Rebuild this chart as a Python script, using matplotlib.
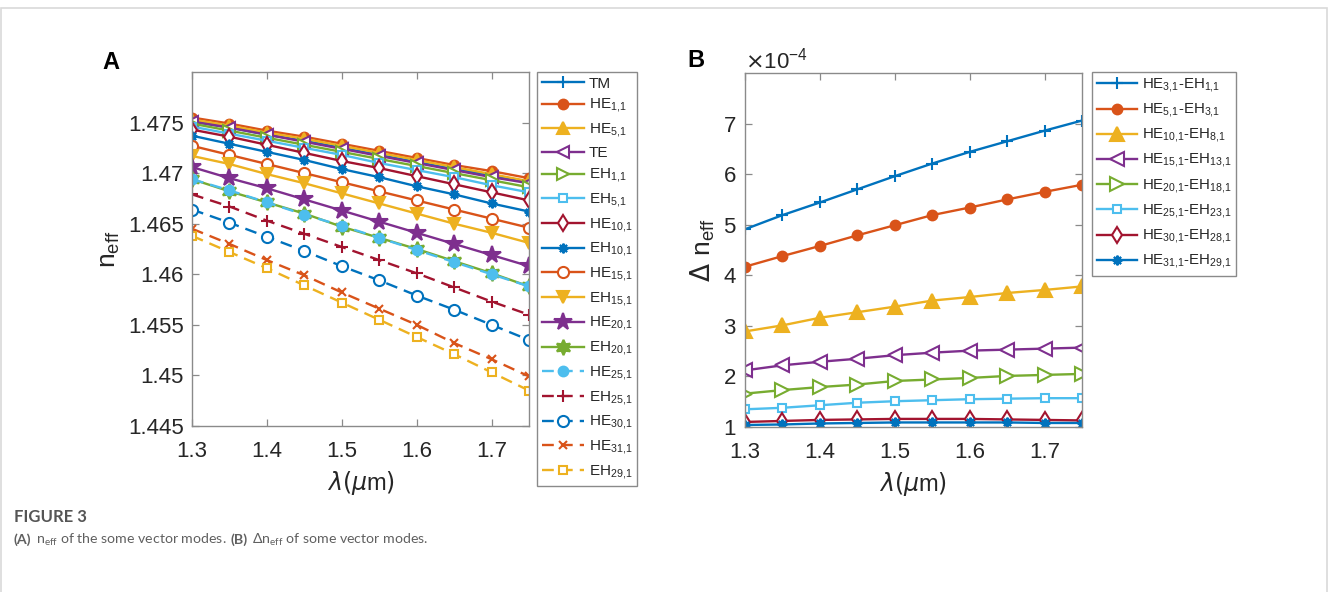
import matplotlib
matplotlib.use('Agg')
import matplotlib.pyplot as plt
from matplotlib.patches import Rectangle
from matplotlib.ticker import FuncFormatter

plt.rcParams['font.family'] = ['Liberation Sans', 'DejaVu Sans']
plt.rcParams['mathtext.fontset'] = 'dejavusans'

# wavelength (um)
wl = [1.30, 1.35, 1.40, 1.45, 1.50, 1.55, 1.60, 1.65, 1.70, 1.75]

# panel A: effective index of the vector modes
n_TM    = [1.4751, 1.4745, 1.4738, 1.4732, 1.4725, 1.4718, 1.4711, 1.4704, 1.4698, 1.4691]
n_HE1   = [1.4755, 1.4749, 1.4742, 1.4736, 1.4729, 1.4722, 1.4715, 1.4708, 1.4702, 1.4695]
n_HE5   = [1.4753, 1.4747, 1.4740, 1.4734, 1.4727, 1.4720, 1.4713, 1.4706, 1.4699, 1.4692]
n_TE    = [1.4751, 1.4745, 1.4738, 1.4731, 1.4724, 1.4717, 1.4710, 1.4703, 1.4696, 1.4690]
n_EH1   = [1.4749, 1.4742, 1.4735, 1.4728, 1.4721, 1.4714, 1.4707, 1.4700, 1.4693, 1.4686]
n_EH5   = [1.4746, 1.4739, 1.4732, 1.4725, 1.4718, 1.4710, 1.4703, 1.4696, 1.4688, 1.4681]
n_HE10  = [1.4743, 1.4736, 1.4728, 1.4720, 1.4712, 1.4705, 1.4697, 1.4689, 1.4681, 1.4673]
n_EH10  = [1.4737, 1.4729, 1.4721, 1.4713, 1.4704, 1.4696, 1.4687, 1.4679, 1.4670, 1.4662]
n_HE15  = [1.4727, 1.4718, 1.4709, 1.4700, 1.4691, 1.4682, 1.4673, 1.4664, 1.4655, 1.4646]
n_EH15  = [1.4717, 1.4709, 1.4699, 1.4690, 1.4680, 1.4670, 1.4660, 1.4650, 1.4641, 1.4631]
n_HE20  = [1.4706, 1.4695, 1.4685, 1.4674, 1.4663, 1.4652, 1.4641, 1.4630, 1.4619, 1.4608]
n_EH20  = [1.4694, 1.4682, 1.4671, 1.4660, 1.4647, 1.4636, 1.4625, 1.4613, 1.4601, 1.4588]
n_HE25  = [1.4694, 1.4683, 1.4671, 1.4659, 1.4648, 1.4636, 1.4624, 1.4612, 1.4600, 1.4588]
n_EH25  = [1.4679, 1.4667, 1.4653, 1.4640, 1.4627, 1.4614, 1.4601, 1.4587, 1.4573, 1.4560]
n_HE30  = [1.4664, 1.4651, 1.4637, 1.4623, 1.4608, 1.4594, 1.4579, 1.4565, 1.4550, 1.4535]
n_HE31  = [1.4645, 1.4630, 1.4614, 1.4599, 1.4582, 1.4566, 1.4550, 1.4532, 1.4516, 1.4499]
n_EH29  = [1.4638, 1.4622, 1.4606, 1.4589, 1.4572, 1.4555, 1.4538, 1.4521, 1.4503, 1.4485]

labels_a = ['TM', 'HE|1,1', 'HE|5,1', 'TE', 'EH|1,1', 'EH|5,1', 'HE|10,1',
            'EH|10,1', 'HE|15,1', 'EH|15,1', 'HE|20,1', 'EH|20,1',
            'HE|25,1', 'EH|25,1', 'HE|30,1', 'HE|31,1', 'EH|29,1']
series_a = [n_TM, n_HE1, n_HE5, n_TE, n_EH1, n_EH5, n_HE10, n_EH10, n_HE15,
            n_EH15, n_HE20, n_EH20, n_HE25, n_EH25, n_HE30, n_HE31, n_EH29]

# panel B: index difference between neighbouring modes (x1e-4)
d_HE3_EH1   = [4.91, 5.19, 5.44, 5.70, 5.96, 6.21, 6.44, 6.65, 6.86, 7.06]
d_HE5_EH3   = [4.17, 4.38, 4.58, 4.79, 4.99, 5.19, 5.34, 5.50, 5.65, 5.79]
d_HE10_EH8  = [2.89, 3.01, 3.16, 3.27, 3.38, 3.50, 3.57, 3.65, 3.71, 3.78]
d_HE15_EH13 = [2.12, 2.22, 2.29, 2.35, 2.42, 2.47, 2.51, 2.53, 2.55, 2.57]
d_HE20_EH18 = [1.66, 1.73, 1.79, 1.84, 1.91, 1.94, 1.97, 2.01, 2.03, 2.05]
d_HE25_EH23 = [1.35, 1.38, 1.43, 1.48, 1.51, 1.53, 1.55, 1.56, 1.57, 1.57]
d_HE30_EH28 = [1.10, 1.12, 1.14, 1.15, 1.16, 1.16, 1.16, 1.15, 1.14, 1.13]
d_HE31_EH29 = [1.04, 1.05, 1.07, 1.08, 1.09, 1.09, 1.09, 1.09, 1.08, 1.08]

labels_b = ['HE|3,1-EH|1,1', 'HE|5,1-EH|3,1', 'HE|10,1-EH|8,1',
            'HE|15,1-EH|13,1', 'HE|20,1-EH|18,1', 'HE|25,1-EH|23,1',
            'HE|30,1-EH|28,1', 'HE|31,1-EH|29,1']
series_b = [d_HE3_EH1, d_HE5_EH3, d_HE10_EH8, d_HE15_EH13, d_HE20_EH18,
            d_HE25_EH23, d_HE30_EH28, d_HE31_EH29]

# MATLAB default colour order
C = ['#0072BD', '#D95319', '#EDB120', '#7E2F8E', '#77AC30', '#4DBEEE', '#A2142F']
ASTER = (8, 2, 0)
HEXA = (6, 1, 0)

# marker, filled, linestyle, size
style_a = [('+', True, '-', 8), ('o', True, '-', 7), ('^', True, '-', 9),
           ('<', False, '-', 8), ('>', False, '-', 8), ('s', False, '-', 6),
           ('d', False, '-', 8), (ASTER, True, '-', 7), ('o', False, '-', 8),
           ('v', True, '-', 9), ('*', True, '-', 13), (HEXA, True, '-', 11),
           ('o', True, '--', 7), ('+', True, '--', 8), ('o', False, '--', 8),
           ('x', True, '--', 6), ('s', False, '--', 6)]
style_b = [('+', True, '-', 8), ('o', True, '-', 7), ('^', True, '-', 10),
           ('<', False, '-', 10), ('>', False, '-', 10), ('s', False, '-', 6),
           ('d', False, '-', 8), (ASTER, True, '-', 7)]

GREY = '#8a8a8a'
TXT = '#262626'


def sub(lab):
    # 'HE|3,1-EH|1,1' -> HE with subscript 3,1 - EH with subscript 1,1
    out = []
    for part in lab.split('-'):
        if '|' in part:
            name, idx = part.split('|')
            part = name + r'$_{\mathregular{' + idx.replace(',', '{,}') + '}}$'
        out.append(part)
    return '-'.join(out)


fig = plt.figure(figsize=(13.28, 5.92), dpi=100)
fig.patches.append(Rectangle((0.0008, -0.1), 0.9984, 1.086, transform=fig.transFigure,
                             fill=False, edgecolor='#d9d9d9', linewidth=1.2))

ax1 = fig.add_axes([0.1446, 0.2804, 0.2538, 0.598])
ax2 = fig.add_axes([0.5610, 0.2787, 0.2538, 0.598])


def draw(ax, xs, series, labels, styles):
    for i, (ys, lab, st) in enumerate(zip(series, labels, styles)):
        mk, filled, ls, ms = st
        col = C[i % 7]
        kw = dict(color=col, linewidth=1.7, marker=mk, markersize=ms,
                  markeredgewidth=1.5, markeredgecolor=col,
                  markerfacecolor=col if filled else 'white',
                  label=sub(lab))
        if ls == '--':
            kw['dashes'] = (5, 3)
        ax.plot(xs, ys, **kw)


def style_axes(ax):
    for s in ax.spines.values():
        s.set_color(GREY)
        s.set_linewidth(1.0)
    ax.tick_params(direction='in', top=True, right=True, length=5, width=0.9,
                   color=GREY, labelcolor=TXT, labelsize=16, pad=6)
    ax.tick_params(axis='x', pad=11)
    ax.set_xlim(1.3, 1.75)
    ax.set_xticks([1.3, 1.4, 1.5, 1.6, 1.7])
    ax.set_xlabel(r'$\lambda(\mu$m$)$', fontsize=17, color=TXT, labelpad=5)


draw(ax1, wl, series_a, labels_a, style_a)
style_axes(ax1)
ax1.set_ylim(1.445, 1.48)
ax1.set_yticks([1.445, 1.45, 1.455, 1.46, 1.465, 1.47, 1.475])
ax1.yaxis.set_major_formatter(FuncFormatter(lambda v, p: '%g' % round(v, 4)))
ax1.set_ylabel(r'$\mathregular{n_{eff}}$', fontsize=19, color=TXT, labelpad=4)

series_b_abs = [[v * 1e-4 for v in s] for s in series_b]
draw(ax2, wl, series_b_abs, labels_b, style_b)
style_axes(ax2)
ax2.set_ylim(1e-4, 8e-4)
ax2.set_yticks([1e-4, 2e-4, 3e-4, 4e-4, 5e-4, 6e-4, 7e-4])
ax2.ticklabel_format(axis='y', style='sci', scilimits=(0, 0), useMathText=True)
ax2.yaxis.get_offset_text().set_fontsize(16)
ax2.yaxis.get_offset_text().set_color(TXT)
ax2.set_ylabel(r'$\Delta\ \mathregular{n_{eff}}$', fontsize=19, color=TXT, labelpad=4)

leg_kw = dict(loc='upper left', bbox_transform=fig.transFigure, fancybox=False,
              edgecolor=GREY, framealpha=1, borderpad=0.3, handletextpad=0.3,
              borderaxespad=0)
leg1 = ax1.legend(bbox_to_anchor=(0.4044, 0.8784), fontsize=11, handlelength=2.8,
                  labelspacing=0.42, **leg_kw)
leg2 = ax2.legend(bbox_to_anchor=(0.8223, 0.8784), fontsize=10.8, handlelength=2.7,
                  labelspacing=0.46, **leg_kw)
for lg in (leg1, leg2):
    lg.get_frame().set_linewidth(1.0)
    for t in lg.get_texts():
        t.set_color(TXT)

fig.text(0.0768, 0.895, 'A', fontsize=17, fontweight='bold', ha='left', va='center', color='black')
fig.text(0.5173, 0.897, 'B', fontsize=17, fontweight='bold', ha='left', va='center', color='black')

# caption with mixed weights
cap_font = ['Lato', 'DejaVu Sans']
fig.text(0.0105, 0.127, 'FIGURE 3', fontsize=12, fontweight='bold',
         family=cap_font, color='#555555', va='center')
pieces = [('(A)', 'bold'), (r'n$_{\mathregular{eff}}$ of the some vector modes.', 'normal'),
          ('(B)', 'bold'), (r'Δn$_{\mathregular{eff}}$ of some vector modes.', 'normal')]
fig.canvas.draw()
r = fig.canvas.get_renderer()
xpos = 0.0105
for txt, w in pieces:
    t = fig.text(xpos, 0.088, txt, fontsize=10.2, fontweight=w, family=cap_font,
                 color='#606060', va='center')
    bb = t.get_window_extent(renderer=r)
    xpos += bb.width / fig.bbox.width + 0.0033

fig.savefig('out.png', dpi=100)
